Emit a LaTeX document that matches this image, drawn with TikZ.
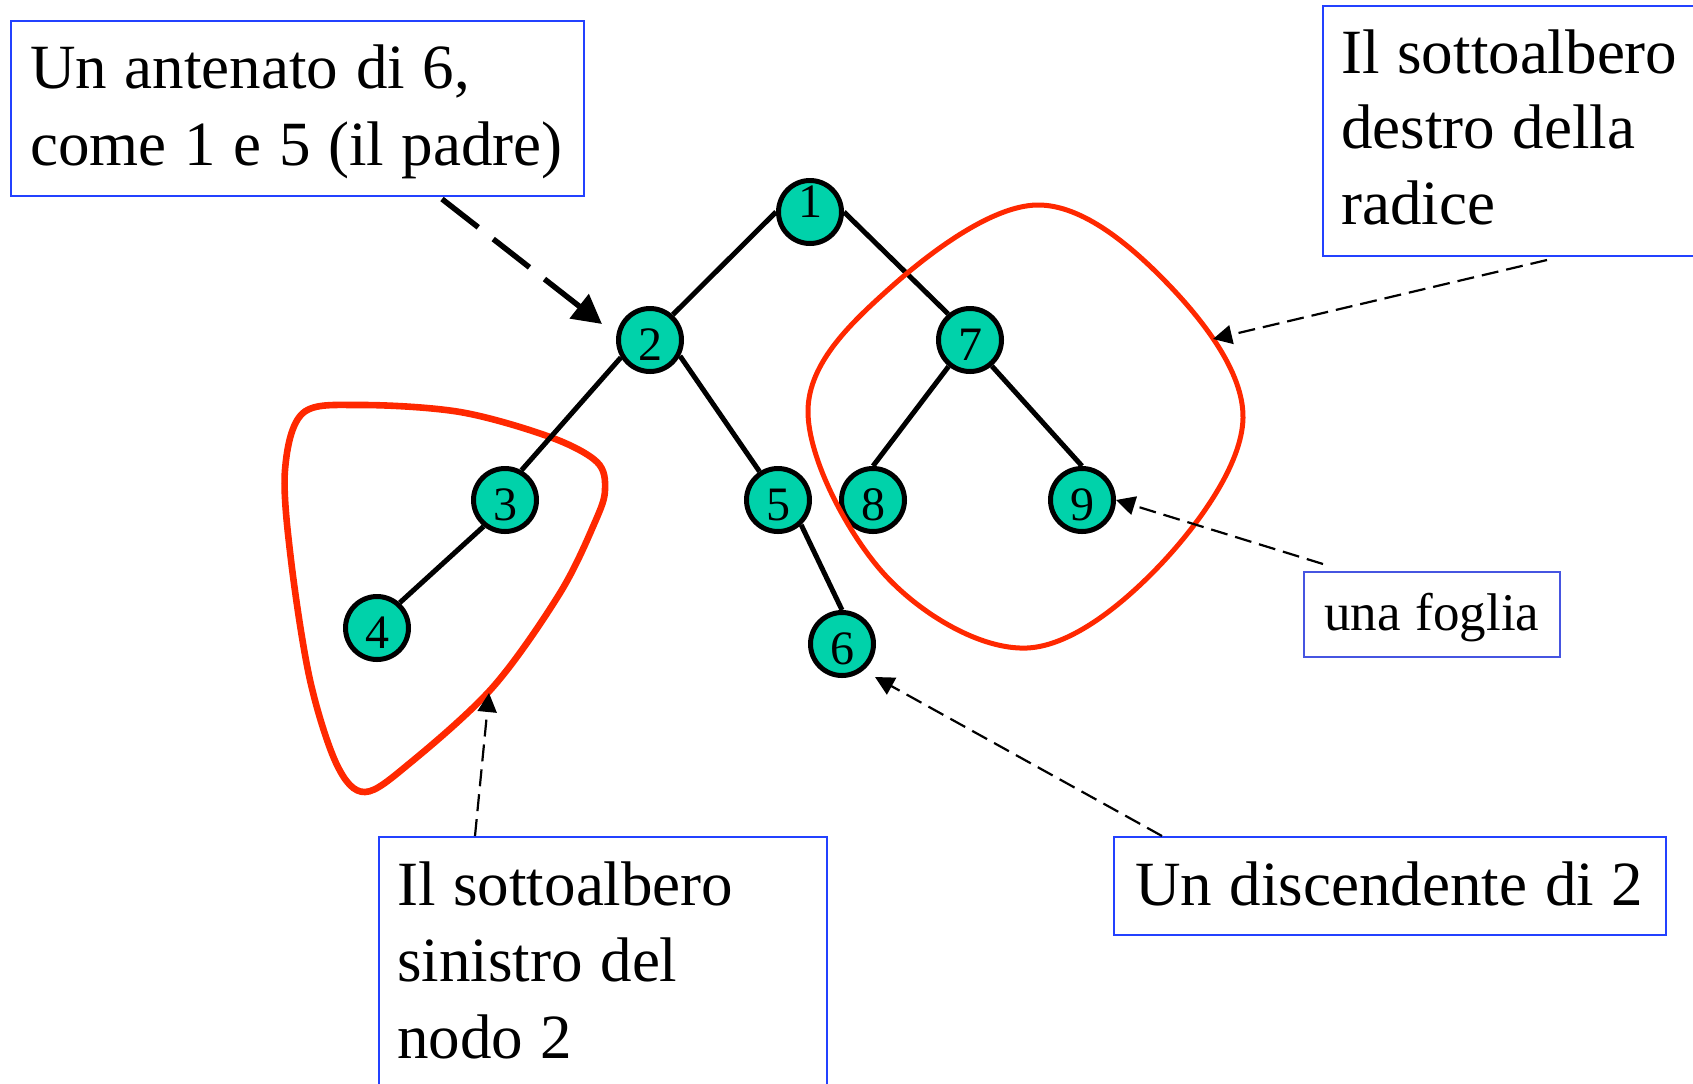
\documentclass[tikz,border=0pt]{standalone}
\usepackage{fontspec}
\setmainfont{Liberation Serif}
\usetikzlibrary{arrows.meta}
\pgfdeclarelayer{background}
\pgfsetlayers{background,main}
\definecolor{tealfill}{RGB}{0,210,170}
\definecolor{hullred}{RGB}{255,40,0}
\definecolor{boxblue}{RGB}{35,65,255}
\definecolor{boxblueb}{RGB}{70,85,225}
\begin{document}
\begin{tikzpicture}[x=0.5pt,y=-0.5pt,
  tnode/.style={circle,draw=black,fill=tealfill,line width=2.5pt,minimum size=31.5pt,inner sep=0pt,
    font=\fontsize{24pt}{28pt}\selectfont,text height=20.5pt,text depth=0pt},
  treeedge/.style={line width=2.5pt},
  box/.style={draw=boxblue,line width=1pt,rectangle,inner sep=0pt,anchor=north west},
  txt/.style={inner sep=0pt,anchor=base west,text width=#1,
    execute at begin node={\spaceskip=0.28em\relax}},
  bigarrow/.style={line width=2.75pt,dash pattern=on 23pt off 9.5pt,-{Triangle[length=14.5pt,width=15pt]}},
  thinarrow/.style={line width=1.1pt,dash pattern=on 8.5pt off 4pt,-{Triangle[length=9.5pt,width=9.5pt]}},
  hull/.style={draw=hullred}
]
\useasboundingbox (0,0) rectangle (1693,1083);
\clip (0,0) rectangle (1693,1083);

% tree nodes
\node[tnode,text height=16.5pt,text depth=11pt] (n1) at (810,212) {1};
\node[tnode] (n2) at (650,340) {2};
\node[tnode] (n7) at (970,340) {7};
\node[tnode] (n3) at (505,500) {3};
\node[tnode] (n5) at (778,500) {5};
\node[tnode] (n8) at (873,500) {8};
\node[tnode] (n9) at (1082,500) {9};
\node[tnode] (n4) at (377,628) {4};
\node[tnode] (n6) at (842,644) {6};

\begin{pgfonlayer}{background}
  % left subtree hull
  \draw[hull,line width=3.3pt] plot[smooth cycle,tension=0.55] coordinates {
    (303,413) (360,405) (460,412) (550,437) (597,462) (605,490) (595,522)
    (560,593) (493,687) (410,763) (365,792) (337,765) (310,680) (291,560) (285,470)};
  % edges
  \draw[treeedge] (n1.west) -- (n2.48);
  \draw[treeedge] (n1.east) -- (n7.130);
  \draw[treeedge] (n2.211) -- (n3.61);
  \draw[treeedge] (n2.-28) -- (n5.123);
  \draw[treeedge] (n3.231) -- (n4.48);
  \draw[treeedge] (n5.-47) -- (n6.90);
  \draw[treeedge] (n7.231) -- (n8.90);
  \draw[treeedge] (n7.-50) -- (n9.90);
\end{pgfonlayer}

% right subtree hull
\draw[hull,line width=2.5pt] plot[smooth cycle,tension=0.6] coordinates {
  (1037,205) (1167,283) (1243,418) (1162,563) (1027,648) (885,575) (808,410) (890,288)};

% boxes
\node[box,minimum width=286.5pt,minimum height=87.5pt] (A) at (10,20) {};
\node[txt=300pt,font=\fontsize{31.5pt}{38.5pt}\selectfont] (At) at (30,88)
  {Un antenato di 6,\\come 1 e 5 (il padre)};

\node[box,minimum width=200pt,minimum height=125pt] (B) at (1322,5) {};
\node[txt=200pt,font=\fontsize{31.5pt}{37.75pt}\selectfont] (Bt) at (1341,73)
  {Il sottoalbero\\destro della\\radice};

\node[box,minimum width=224pt,minimum height=150pt] (C) at (378,836) {};
\node[txt=220pt,font=\fontsize{31.5pt}{38.25pt}\selectfont] (Ct) at (397,905)
  {Il sottoalbero\\sinistro del\\nodo 2};

\node[box,draw=boxblueb,minimum width=128pt,minimum height=42.5pt] (D) at (1303,571) {};
\node[txt=150pt,font=\fontsize{26.5pt}{32pt}\selectfont] (Dt) at (1324,630) {una foglia};

\node[box,minimum width=276pt,minimum height=49pt] (E) at (1113,836) {};
\node[txt=300pt,font=\fontsize{31.5pt}{38pt}\selectfont] (Et) at (1135,905) {Un discendente di 2};

% annotation arrows
\coordinate (sA) at ([xshift=216pt,yshift=-1pt]A.south west);
\coordinate (tA) at (602,324);
\draw[bigarrow] (sA) -- (tA);

\coordinate (sB) at ([xshift=112.5pt,yshift=-1.5pt]B.south west);
\coordinate (tB) at (1213,339);
\draw[thinarrow] (sB) -- (tB);

\coordinate (sC) at ([xshift=48.5pt]C.north west);
\coordinate (tC) at (489,693);
\draw[thinarrow] (sC) -- (tC);

\coordinate (sD) at ([xshift=10pt,yshift=3.5pt]D.north west);
\draw[thinarrow] (sD) -- (n9.east);

\coordinate (sE) at ([xshift=24.5pt]E.north west);
\coordinate (tE) at (875,677);
\draw[thinarrow] (sE) -- (tE);
\end{tikzpicture}
\end{document}
